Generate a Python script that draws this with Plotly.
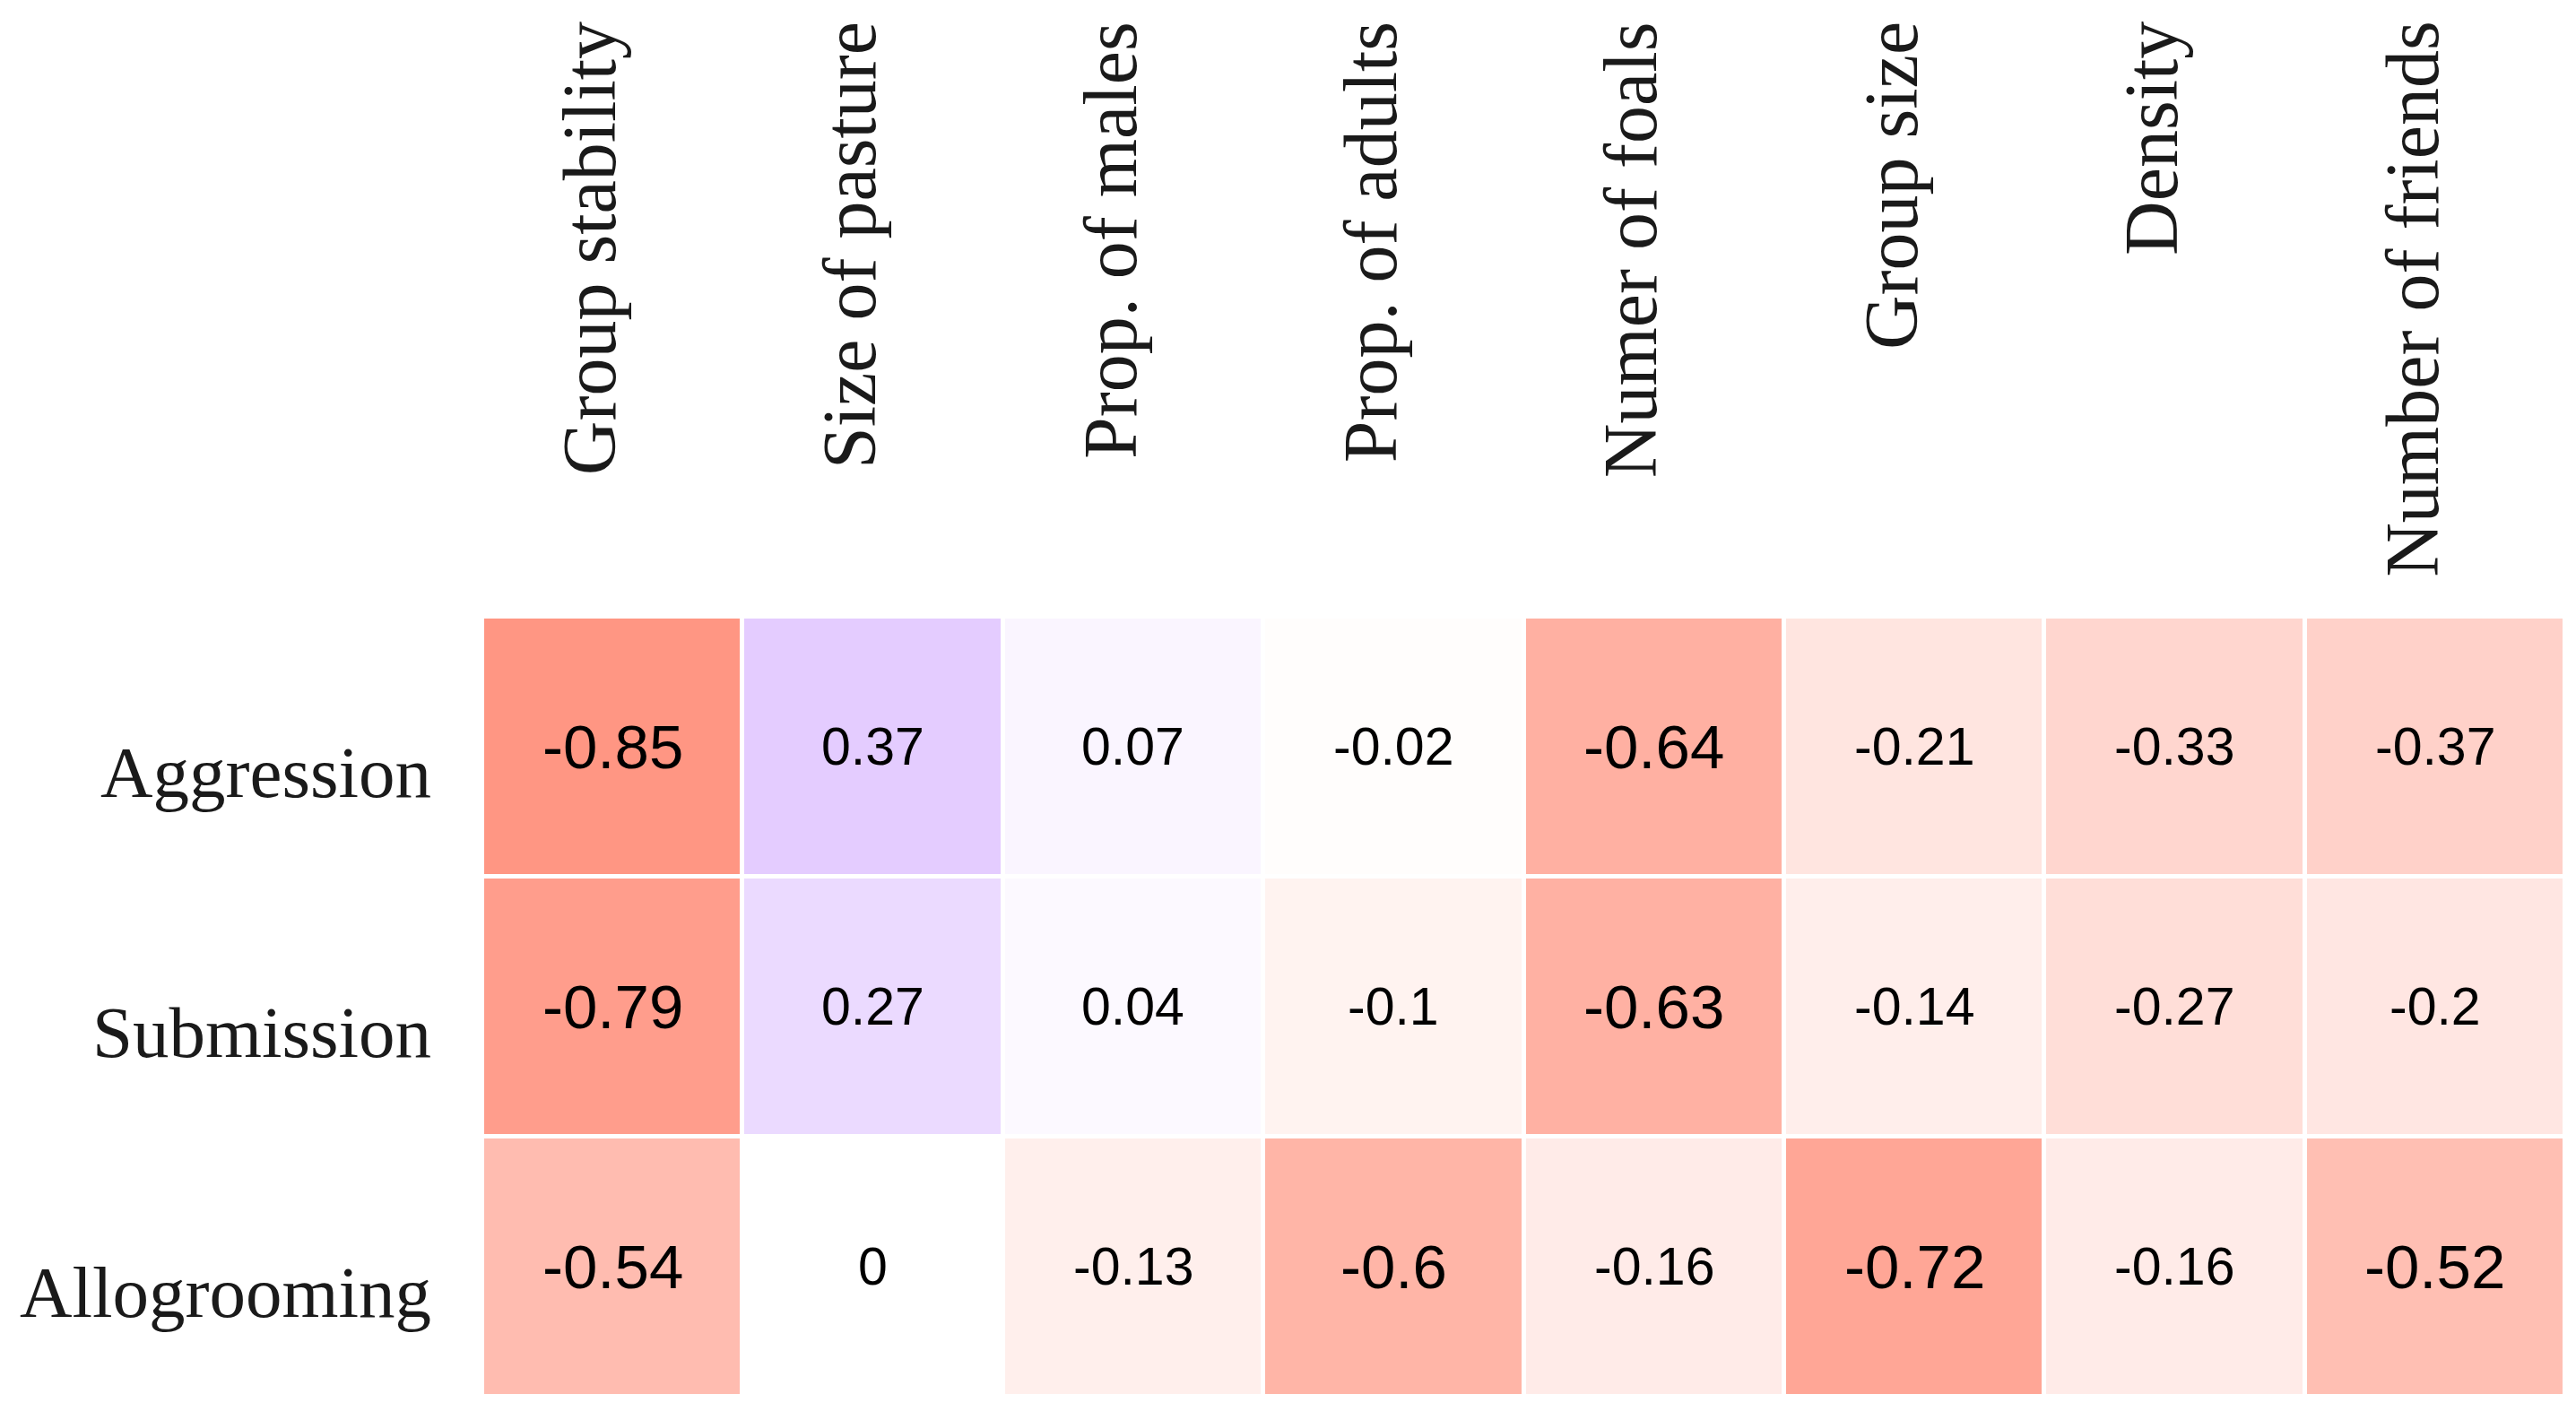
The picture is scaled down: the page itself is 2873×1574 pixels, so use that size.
import plotly.graph_objects as go

# correlations of behaviour with group/pasture features
columns = [
    "Group stability",
    "Size of pasture",
    "Prop. of males",
    "Prop. of adults",
    "Numer of foals",
    "Group size",
    "Density",
    "Number of friends",
]
rows = ["Aggression", "Submission", "Allogrooming"]

aggression = [-0.85, 0.37, 0.07, -0.02, -0.64, -0.21, -0.33, -0.37]
submission = [-0.79, 0.27, 0.04, -0.1, -0.63, -0.14, -0.27, -0.2]
allogrooming = [-0.54, 0, -0.13, -0.6, -0.16, -0.72, -0.16, -0.52]

z = [aggression, submission, allogrooming]

colorscale = [
    [0.0, "rgb(255,131,109)"],
    [0.5, "rgb(255,255,255)"],
    [1.0, "rgb(182,117,255)"],
]

W, H = 2873, 1574
L, R, T, B = 530, 20, 680, 24
plot_h = H - T - B

fig = go.Figure(
    go.Heatmap(
        z=z,
        x=columns,
        y=rows,
        zmin=-1,
        zmax=1,
        colorscale=colorscale,
        showscale=False,
        xgap=5,
        ygap=5,
        hoverinfo="skip",
    )
)

# cell values, bigger font for the strong ones
for r, row_vals in zip(rows, z):
    for c, v in zip(columns, row_vals):
        fig.add_annotation(
            x=c,
            y=r,
            xref="x",
            yref="y",
            text=f"{v:g}",
            showarrow=False,
            font=dict(family="Liberation Sans, Arial, sans-serif", size=69 if abs(v) >= 0.5 else 59, color="#000"),
        )

# column labels, rotated and hung from the top
label_top = 1 + (T - 14) / plot_h
for c in columns:
    fig.add_annotation(
        x=c,
        y=label_top,
        xref="x",
        yref="paper",
        text=c,
        textangle=-90,
        yanchor="top",
        xshift=-26,
        showarrow=False,
        font=dict(family="Liberation Serif, Times New Roman, serif", size=84, color="#1a1a1a"),
    )

fig.update_xaxes(showticklabels=False, showgrid=False, zeroline=False, ticks="")
fig.update_yaxes(
    autorange="reversed",
    showgrid=False,
    zeroline=False,
    ticks="",
    ticklabelstandoff=56,
    ticklabelshift=-28,
    tickfont=dict(family="Liberation Serif, Times New Roman, serif", size=81, color="#1a1a1a"),
)

fig.update_layout(
    width=W,
    height=H,
    margin=dict(l=L, r=R, t=T, b=B),
    plot_bgcolor="white",
    paper_bgcolor="white",
)

fig.write_html("out.html")
